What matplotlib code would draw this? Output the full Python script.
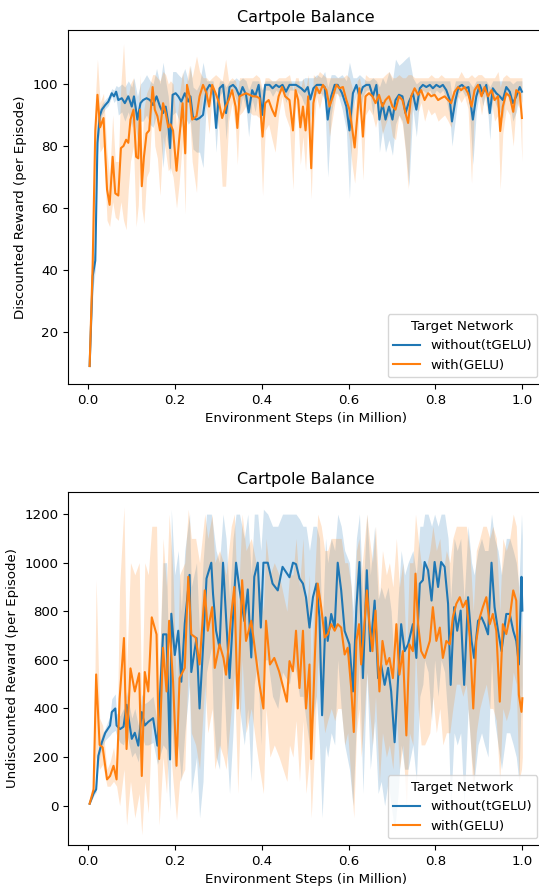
import numpy as np
import matplotlib
matplotlib.use('Agg')
import matplotlib.pyplot as plt

plt.rcParams['font.size'] = 9.6
plt.rcParams['axes.titlesize'] = 11.5

# ---- top panel: discounted reward ----
top_blue_x = [0.004, 0.011, 0.017, 0.022, 0.027, 0.032, 0.040, 0.047, 0.055, 0.060, 0.065, 0.070, 0.078, 0.085, 0.093,
              0.101, 0.106, 0.114, 0.121, 0.127, 0.135, 0.143, 0.150, 0.158, 0.166, 0.173, 0.179, 0.185, 0.189, 0.195,
              0.202, 0.208, 0.215, 0.223, 0.231, 0.236, 0.242, 0.250, 0.257, 0.265, 0.273, 0.280, 0.288, 0.295, 0.303,
              0.311, 0.318, 0.326, 0.334, 0.341, 0.349, 0.356, 0.364, 0.370, 0.378, 0.385, 0.393, 0.401, 0.408, 0.418,
              0.425, 0.433, 0.440, 0.448, 0.456, 0.464, 0.479, 0.491, 0.499, 0.506, 0.512, 0.519, 0.527, 0.537, 0.545,
              0.552, 0.560, 0.568, 0.575, 0.585, 0.595, 0.602, 0.610, 0.618, 0.625, 0.633, 0.641, 0.648, 0.656, 0.664,
              0.671, 0.678, 0.685, 0.693, 0.701, 0.708, 0.716, 0.724, 0.731, 0.739, 0.748, 0.756, 0.764, 0.771, 0.779,
              0.787, 0.794, 0.802, 0.810, 0.817, 0.825, 0.833, 0.838, 0.846, 0.853, 0.861, 0.869, 0.876, 0.886, 0.894,
              0.902, 0.909, 0.917, 0.925, 0.932, 0.940, 0.948, 0.955, 0.963, 0.971, 0.978, 0.986, 0.994, 0.999]
top_blue_y = [9, 38, 43, 81, 89.5, 91.7, 93.2, 94.3, 97, 96, 97.5, 94.8, 95.4, 93.8, 96,
              92.7, 96, 88.5, 93.8, 94.8, 95.4, 94.8, 93.2, 96, 92.7, 90.6, 92.7, 87.4, 79.3, 96.5,
              97, 96, 94.3, 97, 94.3, 96, 89, 88.5, 89, 90, 98, 99.7, 98.6, 85.8, 98.6,
              99.7, 90.6, 99, 99.7, 98.6, 96, 99, 96.5, 90.8, 98, 96, 99.7, 90, 99.7, 99.7,
              98.6, 99.7, 99, 99.7, 97.5, 99.7, 99.7, 98.6, 97.5, 99, 95, 98.6, 99.7, 99.7, 99,
              88.5, 96, 99.7, 99.7, 97, 92.7, 85, 97, 99.7, 96, 99, 99.7, 99.7, 96, 99.7,
              88.5, 93.8, 88.5, 92.7, 88.5, 94.8, 96.5, 96, 90.6, 94.3, 97, 91.7, 98.6, 99.7, 99,
              99.7, 98.6, 99.7, 99, 99.7, 98, 94.8, 87.9, 94.8, 99, 99.7, 98.6, 99, 88.5, 96,
              99.7, 97, 99.7, 90.6, 98.6, 97, 96, 94.8, 99, 97.5, 93.8, 96, 99, 97.5]
top_blue_lo = [8, 33, 40, 77, 87, 90, 92, 93, 96, 94, 95, 90, 91, 88, 91,
               86, 90, 82, 88, 88, 90, 87, 86, 90, 85, 73, 84, 80, 71, 90,
               91, 89, 86, 90, 87, 88, 79, 78, 78, 73, 95, 98, 96, 78, 96,
               98, 82, 97, 98, 95, 91, 96, 92, 83, 95, 91, 98, 82, 98, 98,
               96, 98, 97, 98, 94, 98, 98, 96, 93, 96, 88, 95, 97, 97, 95,
               70, 90, 97, 97, 92, 85, 63, 92, 97, 90, 96, 98, 98, 90, 98,
               78, 85, 78, 82, 77, 87, 90, 88, 79, 67, 92, 83, 96, 98, 97,
               98, 96, 98, 97, 98, 95, 89, 80, 89, 97, 98, 96, 97, 74, 91,
               98, 93, 98, 82, 96, 93, 91, 89, 97, 94, 88, 91, 97, 94]
top_blue_hi = [10, 43, 47, 85, 92, 93.5, 95, 96, 98.5, 98, 99.5, 99, 100, 99, 101,
               99, 102, 96, 100, 101, 103, 101, 100, 105, 100, 107, 101, 96, 89, 104,
               104, 103, 102, 105, 101, 106, 99, 98, 100, 107, 101, 101, 101, 94, 101,
               101, 99, 101, 101, 102, 101, 102, 101, 98, 101, 101, 101, 98, 101, 101,
               101, 101, 101, 101, 101, 101, 101, 101, 102, 102, 102, 102, 103, 102, 104,
               99, 103, 103, 102, 103, 101, 107, 102, 102, 103, 102, 101, 101, 102, 101,
               99, 102, 100, 104, 101, 108, 106, 107, 108, 109, 102, 100, 101, 101, 101,
               101, 101, 101, 101, 101, 101, 101, 96, 101, 101, 101, 101, 101, 99, 101,
               101, 101, 101, 99, 101, 101, 101, 101, 101, 101, 100, 101, 101, 101]

top_orange_x = [0.004, 0.011, 0.017, 0.022, 0.028, 0.036, 0.044, 0.050, 0.057, 0.063, 0.070, 0.076, 0.082, 0.088, 0.093,
                0.098, 0.105, 0.111, 0.116, 0.120, 0.124, 0.129, 0.135, 0.141, 0.149, 0.154, 0.160, 0.166, 0.173, 0.179,
                0.185, 0.190, 0.196, 0.204, 0.210, 0.218, 0.224, 0.228, 0.234, 0.240, 0.250, 0.257, 0.265, 0.273, 0.279,
                0.286, 0.294, 0.302, 0.309, 0.317, 0.324, 0.332, 0.340, 0.344, 0.349, 0.356, 0.364, 0.372, 0.379, 0.387,
                0.395, 0.402, 0.408, 0.416, 0.424, 0.431, 0.439, 0.447, 0.454, 0.464, 0.472, 0.478, 0.484, 0.489, 0.495,
                0.501, 0.507, 0.514, 0.519, 0.526, 0.533, 0.541, 0.549, 0.556, 0.564, 0.572, 0.579, 0.587, 0.595, 0.602,
                0.608, 0.614, 0.620, 0.625, 0.633, 0.639, 0.647, 0.655, 0.662, 0.670, 0.678, 0.685, 0.693, 0.701, 0.708,
                0.716, 0.724, 0.731, 0.737, 0.744, 0.752, 0.760, 0.767, 0.775, 0.783, 0.790, 0.798, 0.806, 0.813, 0.821,
                0.829, 0.836, 0.844, 0.852, 0.859, 0.867, 0.875, 0.883, 0.890, 0.898, 0.906, 0.913, 0.921, 0.929, 0.936,
                0.944, 0.949, 0.955, 0.963, 0.971, 0.979, 0.986, 0.994, 0.999]
top_orange_y = [9, 42, 85, 96.5, 86, 89, 66, 61, 76.5, 64.7, 64, 79.3, 80, 82, 81,
                88.5, 91.7, 76.5, 76, 91.7, 67, 76.5, 84, 85, 99, 91.7, 89.6, 85, 93.8, 90.6,
                86, 87, 85, 72, 82, 93.8, 77.6, 99.7, 96, 88.5, 89.6, 96, 99.7, 97, 92.7,
                99.7, 97, 93.8, 89, 92.7, 94.8, 98, 92.7, 85.8, 96, 96.5, 97, 96.5, 96, 96,
                95.4, 83, 93.8, 94.8, 91.7, 89.6, 96, 99, 96, 94.8, 85, 98, 94.8, 86, 92.7,
                85, 96, 72.8, 93.8, 99, 97, 99.7, 98, 92.7, 96, 99.7, 98.6, 99, 94.8, 91.7,
                86, 79.5, 89.6, 98.6, 83, 96, 97, 96, 93.8, 96.5, 92.7, 94.8, 96, 92.7, 91.7,
                96, 94.8, 90.6, 87.4, 96, 98.6, 96.5, 98, 94.8, 97, 96, 96.5, 94.8, 95.4, 96,
                94.8, 93.8, 97.5, 99, 98, 99, 97, 92.7, 98, 99.7, 96, 99, 96, 98, 94.8,
                96, 84.8, 92.7, 97, 96, 91, 98, 97, 89]
top_orange_lo = [8, 30, 75, 88, 78, 80, 56, 54, 62, 57, 56, 62, 56, 53, 66,
                 75, 80, 54, 61, 80, 60, 55, 70, 72, 95, 80, 76, 64, 83, 78,
                 72, 73, 70, 60, 68, 82, 58, 98, 90, 75, 65, 88, 97, 92, 84,
                 97, 92, 85, 67, 67, 88, 94, 85, 74, 90, 91, 93, 91, 90, 90,
                 89, 64, 85, 87, 82, 78, 90, 96, 90, 86, 66, 94, 87, 74, 83,
                 72, 90, 63, 84, 96, 92, 97, 94, 83, 90, 97, 96, 96, 88, 82,
                 74, 68, 78, 95, 69, 90, 92, 90, 86, 91, 84, 87, 90, 83, 82,
                 90, 87, 78, 66, 90, 96, 91, 94, 88, 92, 90, 91, 88, 89, 90,
                 88, 86, 93, 96, 94, 96, 92, 68, 94, 97, 90, 96, 90, 94, 88,
                 90, 66, 84, 92, 90, 80, 94, 92, 75]
top_orange_hi = [10, 55, 95, 108, 94, 97, 78, 70, 90, 75, 75, 100, 113, 97, 96,
                 100, 102, 92, 90, 103, 78, 92, 97, 99, 103, 103, 102, 101, 104, 103,
                 100, 101, 100, 86, 96, 104, 96, 101, 106, 102, 109, 104, 102, 102, 101,
                 102, 103, 102, 101, 108, 101, 102, 101, 97, 102, 102, 102, 102, 102, 103,
                 102, 98, 102, 102, 101, 101, 102, 102, 102, 103, 98, 102, 102, 98, 102,
                 98, 103, 85, 103, 102, 104, 103, 102, 102, 102, 102, 102, 102, 103, 102,
                 99, 92, 101, 102, 97, 103, 102, 102, 102, 102, 102, 103, 104, 102, 102,
                 103, 102, 102, 103, 103, 102, 102, 102, 102, 102, 103, 102, 102, 103, 102,
                 102, 102, 102, 102, 104, 102, 102, 103, 102, 103, 103, 102, 102, 102, 102,
                 104, 99, 102, 103, 102, 102, 102, 102, 102]

# ---- bottom panel: undiscounted reward ----
bot_blue_x = [0.004, 0.013, 0.019, 0.024, 0.032, 0.040, 0.051, 0.055, 0.063, 0.066, 0.074, 0.082, 0.089, 0.101, 0.108,
              0.116, 0.124, 0.131, 0.139, 0.150, 0.160, 0.173, 0.181, 0.189, 0.192, 0.200, 0.208, 0.215, 0.223, 0.234,
              0.238, 0.250, 0.257, 0.265, 0.273, 0.284, 0.288, 0.295, 0.303, 0.311, 0.318, 0.326, 0.334, 0.341, 0.349,
              0.360, 0.368, 0.376, 0.383, 0.391, 0.398, 0.404, 0.414, 0.425, 0.437, 0.448, 0.464, 0.472, 0.479, 0.487,
              0.495, 0.502, 0.510, 0.518, 0.526, 0.533, 0.539, 0.547, 0.552, 0.560, 0.568, 0.575, 0.583, 0.591, 0.602,
              0.610, 0.618, 0.625, 0.633, 0.642, 0.650, 0.660, 0.668, 0.675, 0.683, 0.691, 0.698, 0.706, 0.714, 0.721,
              0.729, 0.737, 0.748, 0.756, 0.764, 0.771, 0.775, 0.783, 0.791, 0.798, 0.806, 0.813, 0.821, 0.829, 0.835,
              0.843, 0.850, 0.858, 0.866, 0.875, 0.883, 0.889, 0.898, 0.906, 0.913, 0.921, 0.929, 0.936, 0.944, 0.952,
              0.963, 0.971, 0.979, 0.986, 0.992, 0.998, 1.000]
bot_blue_y = [8, 50, 67, 205, 260, 300, 330, 385, 400, 330, 315, 325, 415, 275, 300,
              247, 385, 330, 345, 360, 247, 705, 705, 190, 790, 620, 720, 510, 750, 950,
              550, 690, 400, 650, 935, 1000, 872, 720, 650, 1000, 775, 525, 775, 1000, 890,
              760, 890, 610, 942, 1000, 733, 1000, 1000, 914, 886, 983, 940, 1000, 994, 935,
              914, 858, 733, 858, 914, 775, 372, 775, 678, 789, 733, 1000, 886, 719, 664,
              470, 817, 1003, 525, 969, 636, 844, 525, 580, 497, 567, 470, 261, 525, 747,
              636, 664, 747, 608, 914, 928, 1003, 969, 844, 1003, 900, 1003, 983, 831, 497,
              817, 720, 803, 497, 858, 678, 608, 761, 775, 747, 705, 1000, 817, 720, 636,
              789, 789, 720, 678, 581, 942, 803]
bot_blue_lo = [5, 40, 55, 180, 240, 270, 290, 300, 310, 290, 260, 250, 300, 200, 220,
               180, 290, 250, 250, 260, 170, 250, 230, -20, 350, 150, 250, 100, 300, 500,
               50, 200, -50, 100, 550, 650, 400, 200, 150, 600, 300, 50, 300, 600, 400,
               250, 400, 100, 500, 600, 250, 600, 600, 450, 400, 550, 500, 600, 550, 450,
               450, 350, 250, 350, 450, 250, -50, 250, 200, 300, 250, 600, 400, 250, 150,
               0, 350, 600, 50, 550, 150, 350, 50, 100, 0, 100, 0, -100, 50, 250,
               150, 150, 250, 100, 450, 500, 600, 550, 350, 600, 450, 600, 550, 350, 0,
               300, 250, 300, 0, 400, 200, 100, 250, 300, 250, 200, 600, 350, 250, 150,
               300, 300, 250, 200, 100, 500, 350]
bot_blue_hi = [12, 60, 80, 230, 290, 320, 370, 440, 460, 380, 370, 400, 470, 360, 400,
               330, 460, 420, 430, 450, 340, 1000, 1000, 350, 1220, 950, 1050, 800, 1050, 1200,
               900, 1000, 700, 1000, 1200, 1200, 1150, 1050, 1000, 1200, 1100, 850, 1100, 1200, 1200,
               1100, 1200, 950, 1200, 1200, 1050, 1220, 1200, 1150, 1150, 1200, 1200, 1200, 1200, 1180,
               1150, 1150, 1050, 1150, 1150, 1100, 700, 1100, 1000, 1100, 1050, 1200, 1150, 1050, 1000,
               800, 1100, 1200, 850, 1200, 950, 1150, 850, 900, 850, 900, 800, 550, 850, 1050,
               950, 1000, 1050, 950, 1150, 1150, 1200, 1200, 1150, 1200, 1150, 1200, 1200, 1100, 850,
               1100, 1050, 1100, 850, 1150, 1000, 950, 1050, 1100, 1050, 1050, 1200, 1100, 1050, 950,
               1100, 1100, 1050, 1000, 900, 1200, 1100]

bot_orange_x = [0.004, 0.013, 0.019, 0.027, 0.034, 0.044, 0.051, 0.059, 0.066, 0.073, 0.083, 0.089, 0.098, 0.108, 0.118,
                0.124, 0.131, 0.139, 0.147, 0.158, 0.164, 0.173, 0.181, 0.187, 0.196, 0.204, 0.211, 0.223, 0.231, 0.238,
                0.248, 0.257, 0.269, 0.276, 0.286, 0.292, 0.303, 0.312, 0.318, 0.330, 0.337, 0.345, 0.355, 0.364, 0.376,
                0.387, 0.395, 0.404, 0.410, 0.419, 0.429, 0.440, 0.458, 0.464, 0.472, 0.479, 0.487, 0.495, 0.502, 0.510,
                0.514, 0.522, 0.529, 0.537, 0.545, 0.552, 0.560, 0.568, 0.575, 0.583, 0.591, 0.598, 0.606, 0.612, 0.618,
                0.624, 0.629, 0.637, 0.642, 0.648, 0.655, 0.662, 0.671, 0.678, 0.687, 0.694, 0.702, 0.710, 0.717, 0.725,
                0.733, 0.740, 0.748, 0.754, 0.760, 0.767, 0.775, 0.787, 0.794, 0.802, 0.810, 0.817, 0.825, 0.833, 0.840,
                0.848, 0.856, 0.863, 0.871, 0.879, 0.887, 0.894, 0.902, 0.909, 0.917, 0.925, 0.932, 0.940, 0.948, 0.955,
                0.963, 0.971, 0.979, 0.986, 0.992, 0.998, 1.000]
bot_orange_y = [8, 67, 540, 250, 240, 108, 122, 164, 108, 440, 690, 233, 565, 470, 545,
                122, 550, 470, 775, 705, 192, 650, 470, 761, 511, 164, 525, 567, 942, 705,
                692, 581, 886, 720, 817, 567, 664, 608, 539, 789, 900, 400, 928, 678, 761,
                608, 497, 400, 761, 581, 608, 553, 428, 595, 553, 720, 484, 720, 400, 581,
                192, 595, 914, 817, 692, 706, 747, 720, 747, 733, 622, 650, 484, 303, 678,
                747, 581, 761, 886, 747, 636, 803, 470, 678, 581, 608, 525, 747, 539, 636,
                289, 664, 636, 955, 747, 636, 608, 678, 817, 678, 733, 608, 678, 664, 775,
                831, 858, 817, 844, 692, 400, 678, 775, 817, 858, 747, 789, 720, 428, 747,
                706, 775, 886, 844, 456, 386, 442]
bot_orange_lo = [5, 40, 200, 150, 170, 80, 80, 100, 80, 0, 150, -80, 100, -50, 50,
                 -120, 100, -30, 350, 250, -80, 200, 50, 300, 100, -60, 100, 150, 600, 300,
                 250, 150, 500, 300, 400, 150, 250, 200, 150, 400, 550, 50, 600, 300, 400,
                 250, 150, 50, 400, 200, 250, 200, 100, 250, 200, 350, 100, 350, 50, 200,
                 -50, 250, 600, 450, 300, 350, 400, 350, 400, 400, 250, 300, 100, -50, 300,
                 400, 200, 400, 550, 400, 250, 450, 100, 300, 200, 250, 150, 400, 150, 250,
                 0, 300, 250, 650, 400, 250, 250, 300, 450, 300, 400, 250, 300, 300, 400,
                 500, 500, 450, 500, 300, 50, 300, 400, 450, 500, 400, 400, 350, 100, 400,
                 350, 400, 550, 500, 100, 150, 200]
bot_orange_hi = [12, 100, 930, 360, 330, 150, 180, 240, 150, 900, 1230, 550, 1000, 950, 1000,
                 400, 1000, 950, 1150, 1150, 500, 1100, 900, 1200, 950, 450, 950, 1000, 1220, 1100,
                 1100, 1000, 1200, 1100, 1200, 1000, 1050, 1000, 950, 1150, 1200, 800, 1200, 1050, 1100,
                 1000, 900, 800, 1100, 950, 1000, 950, 800, 950, 950, 1100, 900, 1100, 800, 950,
                 500, 950, 1200, 1150, 1050, 1050, 1100, 1100, 1100, 1100, 1000, 1000, 900, 650, 1050,
                 1100, 950, 1100, 1200, 1100, 1000, 1150, 850, 1050, 950, 1000, 900, 1100, 900, 1000,
                 600, 1000, 1000, 1200, 1100, 1000, 950, 1050, 1150, 1050, 1100, 950, 1050, 1000, 1100,
                 1150, 1150, 1150, 1150, 1050, 800, 1050, 1100, 1150, 1150, 1100, 1150, 1100, 800, 1100,
                 1050, 1100, 1200, 1150, 850, 700, 750]

blue = '#1f77b4'
orange = '#ff7f0e'

fig = plt.figure(figsize=(5.39, 8.90), dpi=100)
ax1 = fig.add_axes([68/539, 1-384/890, 476/539, 354/890])
ax2 = fig.add_axes([68/539, 1-845/890, 476/539, 353/890])

ax1.fill_between(top_blue_x, top_blue_lo, top_blue_hi, color=blue, alpha=0.2, linewidth=0)
ax1.fill_between(top_orange_x, top_orange_lo, top_orange_hi, color=orange, alpha=0.2, linewidth=0)
ax1.plot(top_blue_x, top_blue_y, color=blue, lw=1.5, label='without(tGELU)')
ax1.plot(top_orange_x, top_orange_y, color=orange, lw=1.5, label='with(GELU)')
ax1.set_ylim(3.2, 117.4)
ax1.set_title('Cartpole Balance')
ax1.set_xlabel('Environment Steps (in Million)')
ax1.set_ylabel('Discounted Reward (per Episode)')
ax1.legend(title='Target Network', loc='lower right')

ax2.fill_between(bot_blue_x, bot_blue_lo, bot_blue_hi, color=blue, alpha=0.2, linewidth=0)
ax2.fill_between(bot_orange_x, bot_orange_lo, bot_orange_hi, color=orange, alpha=0.2, linewidth=0)
ax2.plot(bot_blue_x, bot_blue_y, color=blue, lw=1.5, label='without(tGELU)')
ax2.plot(bot_orange_x, bot_orange_y, color=orange, lw=1.5, label='with(GELU)')
ax2.set_ylim(-162, 1291)
ax2.set_title('Cartpole Balance')
ax2.set_xlabel('Environment Steps (in Million)')
ax2.set_ylabel('Undiscounted Reward (per Episode)')
ax2.legend(title='Target Network', loc='lower right')

for ax in (ax1, ax2):
    ax.set_xlim(-0.0458, 1.0498)

fig.savefig('out.png', dpi=100)
